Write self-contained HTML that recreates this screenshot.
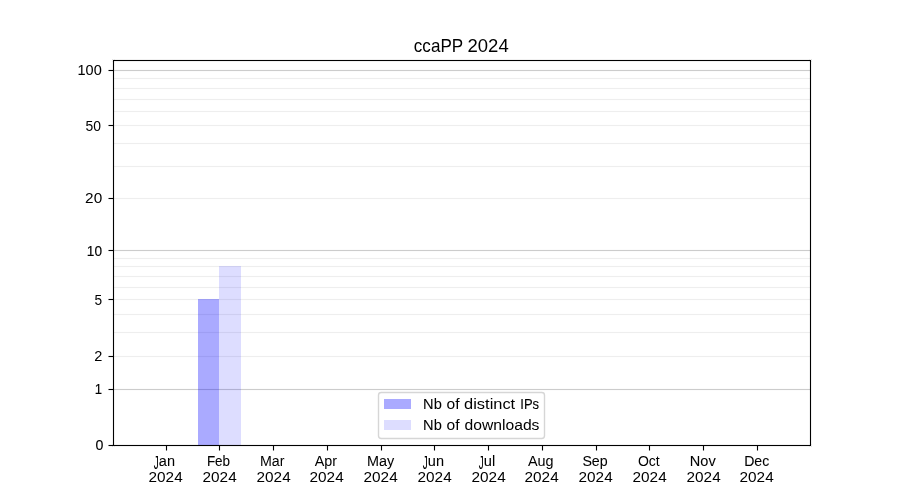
<!DOCTYPE html><html><head><meta charset="utf-8"><style>html,body{margin:0;padding:0;background:#fff;width:900px;height:500px;overflow:hidden}svg{display:block}text{font-family:"Liberation Sans",sans-serif;fill:#000}</style></head><body>
<svg width="900" height="500" viewBox="0 0 900 500">
<rect x="0" y="0" width="900" height="500" fill="#fff"/>
<g shape-rendering="crispEdges">
<rect x="113" y="78" width="697" height="1" fill="#eeeeee"/>
<rect x="113" y="77" width="697" height="1" fill="#eeeeee" fill-opacity="0.055"/>
<rect x="113" y="79" width="697" height="1" fill="#eeeeee" fill-opacity="0.055"/>
<rect x="113" y="88" width="697" height="1" fill="#eeeeee"/>
<rect x="113" y="87" width="697" height="1" fill="#eeeeee" fill-opacity="0.055"/>
<rect x="113" y="89" width="697" height="1" fill="#eeeeee" fill-opacity="0.055"/>
<rect x="113" y="99" width="697" height="1" fill="#eeeeee"/>
<rect x="113" y="98" width="697" height="1" fill="#eeeeee" fill-opacity="0.055"/>
<rect x="113" y="100" width="697" height="1" fill="#eeeeee" fill-opacity="0.055"/>
<rect x="113" y="111" width="697" height="1" fill="#eeeeee"/>
<rect x="113" y="110" width="697" height="1" fill="#eeeeee" fill-opacity="0.055"/>
<rect x="113" y="112" width="697" height="1" fill="#eeeeee" fill-opacity="0.055"/>
<rect x="113" y="125" width="697" height="1" fill="#eeeeee"/>
<rect x="113" y="124" width="697" height="1" fill="#eeeeee" fill-opacity="0.055"/>
<rect x="113" y="126" width="697" height="1" fill="#eeeeee" fill-opacity="0.055"/>
<rect x="113" y="143" width="697" height="1" fill="#eeeeee"/>
<rect x="113" y="142" width="697" height="1" fill="#eeeeee" fill-opacity="0.055"/>
<rect x="113" y="144" width="697" height="1" fill="#eeeeee" fill-opacity="0.055"/>
<rect x="113" y="166" width="697" height="1" fill="#eeeeee"/>
<rect x="113" y="165" width="697" height="1" fill="#eeeeee" fill-opacity="0.055"/>
<rect x="113" y="167" width="697" height="1" fill="#eeeeee" fill-opacity="0.055"/>
<rect x="113" y="198" width="697" height="1" fill="#eeeeee"/>
<rect x="113" y="197" width="697" height="1" fill="#eeeeee" fill-opacity="0.055"/>
<rect x="113" y="199" width="697" height="1" fill="#eeeeee" fill-opacity="0.055"/>
<rect x="113" y="258" width="697" height="1" fill="#eeeeee"/>
<rect x="113" y="257" width="697" height="1" fill="#eeeeee" fill-opacity="0.055"/>
<rect x="113" y="259" width="697" height="1" fill="#eeeeee" fill-opacity="0.055"/>
<rect x="113" y="266" width="697" height="1" fill="#eeeeee"/>
<rect x="113" y="265" width="697" height="1" fill="#eeeeee" fill-opacity="0.055"/>
<rect x="113" y="267" width="697" height="1" fill="#eeeeee" fill-opacity="0.055"/>
<rect x="113" y="276" width="697" height="1" fill="#eeeeee"/>
<rect x="113" y="275" width="697" height="1" fill="#eeeeee" fill-opacity="0.055"/>
<rect x="113" y="277" width="697" height="1" fill="#eeeeee" fill-opacity="0.055"/>
<rect x="113" y="287" width="697" height="1" fill="#eeeeee"/>
<rect x="113" y="286" width="697" height="1" fill="#eeeeee" fill-opacity="0.055"/>
<rect x="113" y="288" width="697" height="1" fill="#eeeeee" fill-opacity="0.055"/>
<rect x="113" y="299" width="697" height="1" fill="#eeeeee"/>
<rect x="113" y="298" width="697" height="1" fill="#eeeeee" fill-opacity="0.055"/>
<rect x="113" y="300" width="697" height="1" fill="#eeeeee" fill-opacity="0.055"/>
<rect x="113" y="314" width="697" height="1" fill="#eeeeee"/>
<rect x="113" y="313" width="697" height="1" fill="#eeeeee" fill-opacity="0.055"/>
<rect x="113" y="315" width="697" height="1" fill="#eeeeee" fill-opacity="0.055"/>
<rect x="113" y="332" width="697" height="1" fill="#eeeeee"/>
<rect x="113" y="331" width="697" height="1" fill="#eeeeee" fill-opacity="0.055"/>
<rect x="113" y="333" width="697" height="1" fill="#eeeeee" fill-opacity="0.055"/>
<rect x="113" y="356" width="697" height="1" fill="#eeeeee"/>
<rect x="113" y="355" width="697" height="1" fill="#eeeeee" fill-opacity="0.055"/>
<rect x="113" y="357" width="697" height="1" fill="#eeeeee" fill-opacity="0.055"/>
<rect x="113" y="70" width="697" height="1" fill="#cccccc"/>
<rect x="113" y="69" width="697" height="1" fill="#cccccc" fill-opacity="0.055"/>
<rect x="113" y="71" width="697" height="1" fill="#cccccc" fill-opacity="0.055"/>
<rect x="113" y="250" width="697" height="1" fill="#cccccc"/>
<rect x="113" y="249" width="697" height="1" fill="#cccccc" fill-opacity="0.055"/>
<rect x="113" y="251" width="697" height="1" fill="#cccccc" fill-opacity="0.055"/>
<rect x="113" y="389" width="697" height="1" fill="#cccccc"/>
<rect x="113" y="388" width="697" height="1" fill="#cccccc" fill-opacity="0.055"/>
<rect x="113" y="390" width="697" height="1" fill="#cccccc" fill-opacity="0.055"/>
<rect x="198" y="299" width="21" height="146" fill="#0000ff" fill-opacity="0.33333"/>
<rect x="219" y="266" width="22" height="179" fill="#0000ff" fill-opacity="0.13333"/>
</g>
<g shape-rendering="crispEdges">
<rect x="112" y="59" width="700" height="1" fill="#000" fill-opacity="0.0549"/>
<rect x="112" y="61" width="700" height="1" fill="#000" fill-opacity="0.0549"/>
<rect x="112" y="444" width="700" height="1" fill="#000" fill-opacity="0.0549"/>
<rect x="112" y="446" width="700" height="1" fill="#000" fill-opacity="0.0549"/>
<rect x="112" y="59" width="1" height="388" fill="#000" fill-opacity="0.0549"/>
<rect x="114" y="59" width="1" height="388" fill="#000" fill-opacity="0.0549"/>
<rect x="809" y="59" width="1" height="388" fill="#000" fill-opacity="0.0549"/>
<rect x="811" y="59" width="1" height="388" fill="#000" fill-opacity="0.0549"/>
<rect x="109" y="69" width="4" height="1" fill="#000" fill-opacity="0.0549"/>
<rect x="109" y="71" width="4" height="1" fill="#000" fill-opacity="0.0549"/>
<rect x="108" y="69" width="1" height="1" fill="#000" fill-opacity="0.0275"/>
<rect x="108" y="71" width="1" height="1" fill="#000" fill-opacity="0.0275"/>
<rect x="109" y="124" width="4" height="1" fill="#000" fill-opacity="0.0549"/>
<rect x="109" y="126" width="4" height="1" fill="#000" fill-opacity="0.0549"/>
<rect x="108" y="124" width="1" height="1" fill="#000" fill-opacity="0.0275"/>
<rect x="108" y="126" width="1" height="1" fill="#000" fill-opacity="0.0275"/>
<rect x="109" y="197" width="4" height="1" fill="#000" fill-opacity="0.0549"/>
<rect x="109" y="199" width="4" height="1" fill="#000" fill-opacity="0.0549"/>
<rect x="108" y="197" width="1" height="1" fill="#000" fill-opacity="0.0275"/>
<rect x="108" y="199" width="1" height="1" fill="#000" fill-opacity="0.0275"/>
<rect x="109" y="249" width="4" height="1" fill="#000" fill-opacity="0.0549"/>
<rect x="109" y="251" width="4" height="1" fill="#000" fill-opacity="0.0549"/>
<rect x="108" y="249" width="1" height="1" fill="#000" fill-opacity="0.0275"/>
<rect x="108" y="251" width="1" height="1" fill="#000" fill-opacity="0.0275"/>
<rect x="109" y="298" width="4" height="1" fill="#000" fill-opacity="0.0549"/>
<rect x="109" y="300" width="4" height="1" fill="#000" fill-opacity="0.0549"/>
<rect x="108" y="298" width="1" height="1" fill="#000" fill-opacity="0.0275"/>
<rect x="108" y="300" width="1" height="1" fill="#000" fill-opacity="0.0275"/>
<rect x="109" y="355" width="4" height="1" fill="#000" fill-opacity="0.0549"/>
<rect x="109" y="357" width="4" height="1" fill="#000" fill-opacity="0.0549"/>
<rect x="108" y="355" width="1" height="1" fill="#000" fill-opacity="0.0275"/>
<rect x="108" y="357" width="1" height="1" fill="#000" fill-opacity="0.0275"/>
<rect x="109" y="388" width="4" height="1" fill="#000" fill-opacity="0.0549"/>
<rect x="109" y="390" width="4" height="1" fill="#000" fill-opacity="0.0549"/>
<rect x="108" y="388" width="1" height="1" fill="#000" fill-opacity="0.0275"/>
<rect x="108" y="390" width="1" height="1" fill="#000" fill-opacity="0.0275"/>
<rect x="109" y="444" width="4" height="1" fill="#000" fill-opacity="0.0549"/>
<rect x="109" y="446" width="4" height="1" fill="#000" fill-opacity="0.0549"/>
<rect x="108" y="444" width="1" height="1" fill="#000" fill-opacity="0.0275"/>
<rect x="108" y="446" width="1" height="1" fill="#000" fill-opacity="0.0275"/>
<rect x="165" y="446" width="1" height="4" fill="#000" fill-opacity="0.0549"/>
<rect x="167" y="446" width="1" height="4" fill="#000" fill-opacity="0.0549"/>
<rect x="165" y="450" width="1" height="1" fill="#000" fill-opacity="0.0275"/>
<rect x="167" y="450" width="1" height="1" fill="#000" fill-opacity="0.0275"/>
<rect x="218" y="446" width="1" height="4" fill="#000" fill-opacity="0.0549"/>
<rect x="220" y="446" width="1" height="4" fill="#000" fill-opacity="0.0549"/>
<rect x="218" y="450" width="1" height="1" fill="#000" fill-opacity="0.0275"/>
<rect x="220" y="450" width="1" height="1" fill="#000" fill-opacity="0.0275"/>
<rect x="272" y="446" width="1" height="4" fill="#000" fill-opacity="0.0549"/>
<rect x="274" y="446" width="1" height="4" fill="#000" fill-opacity="0.0549"/>
<rect x="272" y="450" width="1" height="1" fill="#000" fill-opacity="0.0275"/>
<rect x="274" y="450" width="1" height="1" fill="#000" fill-opacity="0.0275"/>
<rect x="326" y="446" width="1" height="4" fill="#000" fill-opacity="0.0549"/>
<rect x="328" y="446" width="1" height="4" fill="#000" fill-opacity="0.0549"/>
<rect x="326" y="450" width="1" height="1" fill="#000" fill-opacity="0.0275"/>
<rect x="328" y="450" width="1" height="1" fill="#000" fill-opacity="0.0275"/>
<rect x="380" y="446" width="1" height="4" fill="#000" fill-opacity="0.0549"/>
<rect x="382" y="446" width="1" height="4" fill="#000" fill-opacity="0.0549"/>
<rect x="380" y="450" width="1" height="1" fill="#000" fill-opacity="0.0275"/>
<rect x="382" y="450" width="1" height="1" fill="#000" fill-opacity="0.0275"/>
<rect x="433" y="446" width="1" height="4" fill="#000" fill-opacity="0.0549"/>
<rect x="435" y="446" width="1" height="4" fill="#000" fill-opacity="0.0549"/>
<rect x="433" y="450" width="1" height="1" fill="#000" fill-opacity="0.0275"/>
<rect x="435" y="450" width="1" height="1" fill="#000" fill-opacity="0.0275"/>
<rect x="487" y="446" width="1" height="4" fill="#000" fill-opacity="0.0549"/>
<rect x="489" y="446" width="1" height="4" fill="#000" fill-opacity="0.0549"/>
<rect x="487" y="450" width="1" height="1" fill="#000" fill-opacity="0.0275"/>
<rect x="489" y="450" width="1" height="1" fill="#000" fill-opacity="0.0275"/>
<rect x="541" y="446" width="1" height="4" fill="#000" fill-opacity="0.0549"/>
<rect x="543" y="446" width="1" height="4" fill="#000" fill-opacity="0.0549"/>
<rect x="541" y="450" width="1" height="1" fill="#000" fill-opacity="0.0275"/>
<rect x="543" y="450" width="1" height="1" fill="#000" fill-opacity="0.0275"/>
<rect x="595" y="446" width="1" height="4" fill="#000" fill-opacity="0.0549"/>
<rect x="597" y="446" width="1" height="4" fill="#000" fill-opacity="0.0549"/>
<rect x="595" y="450" width="1" height="1" fill="#000" fill-opacity="0.0275"/>
<rect x="597" y="450" width="1" height="1" fill="#000" fill-opacity="0.0275"/>
<rect x="648" y="446" width="1" height="4" fill="#000" fill-opacity="0.0549"/>
<rect x="650" y="446" width="1" height="4" fill="#000" fill-opacity="0.0549"/>
<rect x="648" y="450" width="1" height="1" fill="#000" fill-opacity="0.0275"/>
<rect x="650" y="450" width="1" height="1" fill="#000" fill-opacity="0.0275"/>
<rect x="702" y="446" width="1" height="4" fill="#000" fill-opacity="0.0549"/>
<rect x="704" y="446" width="1" height="4" fill="#000" fill-opacity="0.0549"/>
<rect x="702" y="450" width="1" height="1" fill="#000" fill-opacity="0.0275"/>
<rect x="704" y="450" width="1" height="1" fill="#000" fill-opacity="0.0275"/>
<rect x="756" y="446" width="1" height="4" fill="#000" fill-opacity="0.0549"/>
<rect x="758" y="446" width="1" height="4" fill="#000" fill-opacity="0.0549"/>
<rect x="756" y="450" width="1" height="1" fill="#000" fill-opacity="0.0275"/>
<rect x="758" y="450" width="1" height="1" fill="#000" fill-opacity="0.0275"/>
<rect x="113" y="60" width="698" height="1" fill="#000"/>
<rect x="113" y="445" width="698" height="1" fill="#000"/>
<rect x="113" y="60" width="1" height="386" fill="#000"/>
<rect x="810" y="60" width="1" height="386" fill="#000"/>
<rect x="109" y="70" width="4" height="1" fill="#000"/>
<rect x="108" y="70" width="1" height="1" fill="#000" fill-opacity="0.502"/>
<rect x="109" y="125" width="4" height="1" fill="#000"/>
<rect x="108" y="125" width="1" height="1" fill="#000" fill-opacity="0.502"/>
<rect x="109" y="198" width="4" height="1" fill="#000"/>
<rect x="108" y="198" width="1" height="1" fill="#000" fill-opacity="0.502"/>
<rect x="109" y="250" width="4" height="1" fill="#000"/>
<rect x="108" y="250" width="1" height="1" fill="#000" fill-opacity="0.502"/>
<rect x="109" y="299" width="4" height="1" fill="#000"/>
<rect x="108" y="299" width="1" height="1" fill="#000" fill-opacity="0.502"/>
<rect x="109" y="356" width="4" height="1" fill="#000"/>
<rect x="108" y="356" width="1" height="1" fill="#000" fill-opacity="0.502"/>
<rect x="109" y="389" width="4" height="1" fill="#000"/>
<rect x="108" y="389" width="1" height="1" fill="#000" fill-opacity="0.502"/>
<rect x="109" y="445" width="4" height="1" fill="#000"/>
<rect x="108" y="445" width="1" height="1" fill="#000" fill-opacity="0.502"/>
<rect x="166" y="446" width="1" height="4" fill="#000"/>
<rect x="166" y="450" width="1" height="1" fill="#000" fill-opacity="0.502"/>
<rect x="219" y="446" width="1" height="4" fill="#000"/>
<rect x="219" y="450" width="1" height="1" fill="#000" fill-opacity="0.502"/>
<rect x="273" y="446" width="1" height="4" fill="#000"/>
<rect x="273" y="450" width="1" height="1" fill="#000" fill-opacity="0.502"/>
<rect x="327" y="446" width="1" height="4" fill="#000"/>
<rect x="327" y="450" width="1" height="1" fill="#000" fill-opacity="0.502"/>
<rect x="381" y="446" width="1" height="4" fill="#000"/>
<rect x="381" y="450" width="1" height="1" fill="#000" fill-opacity="0.502"/>
<rect x="434" y="446" width="1" height="4" fill="#000"/>
<rect x="434" y="450" width="1" height="1" fill="#000" fill-opacity="0.502"/>
<rect x="488" y="446" width="1" height="4" fill="#000"/>
<rect x="488" y="450" width="1" height="1" fill="#000" fill-opacity="0.502"/>
<rect x="542" y="446" width="1" height="4" fill="#000"/>
<rect x="542" y="450" width="1" height="1" fill="#000" fill-opacity="0.502"/>
<rect x="596" y="446" width="1" height="4" fill="#000"/>
<rect x="596" y="450" width="1" height="1" fill="#000" fill-opacity="0.502"/>
<rect x="649" y="446" width="1" height="4" fill="#000"/>
<rect x="649" y="450" width="1" height="1" fill="#000" fill-opacity="0.502"/>
<rect x="703" y="446" width="1" height="4" fill="#000"/>
<rect x="703" y="450" width="1" height="1" fill="#000" fill-opacity="0.502"/>
<rect x="757" y="446" width="1" height="4" fill="#000"/>
<rect x="757" y="450" width="1" height="1" fill="#000" fill-opacity="0.502"/>
</g>
<rect x="378.5" y="392.5" width="166" height="46" rx="2.78" ry="2.78" fill="#fff" fill-opacity="0.8" stroke="#cccccc" stroke-opacity="0.8" stroke-width="1.39"/>
<rect x="384" y="399" width="27" height="10" fill="#0000ff" fill-opacity="0.33333"/>
<rect x="384" y="420" width="27" height="10" fill="#0000ff" fill-opacity="0.13333"/>
<g style="filter:grayscale(1)">
<text x="413.85" y="52.00" font-size="18.60" textLength="49.30" lengthAdjust="spacingAndGlyphs">ccaPP</text>
<text x="467.55" y="51.60" font-size="17.75" textLength="41.17" lengthAdjust="spacingAndGlyphs">2024</text>
<text x="77.55" y="75.00" font-size="13.75" textLength="24.21" lengthAdjust="spacingAndGlyphs" stroke="#000" stroke-width="0.050">100</text>
<text x="85.60" y="131.00" font-size="13.90" textLength="15.49" lengthAdjust="spacingAndGlyphs">50</text>
<text x="85.10" y="203.00" font-size="14.50" textLength="17.08" lengthAdjust="spacingAndGlyphs">20</text>
<text x="86.85" y="256.00" font-size="15.30" textLength="15.18" lengthAdjust="spacingAndGlyphs" stroke="#000" stroke-width="0.170">10</text>
<text x="94.60" y="305.00" font-size="15.10" textLength="7.62" lengthAdjust="spacingAndGlyphs">5</text>
<text x="94.35" y="361.00" font-size="14.50" textLength="8.09" lengthAdjust="spacingAndGlyphs" stroke="#000" stroke-width="0.020">2</text>
<text x="94.85" y="394.00" font-size="15.40" textLength="7.30" lengthAdjust="spacingAndGlyphs" stroke="#000" stroke-width="0.170">1</text>
<text x="95.50" y="450.00" font-size="13.75" textLength="7.90" lengthAdjust="spacingAndGlyphs" stroke="#000" stroke-width="0.130">0</text>
<text transform="translate(153.85 468.80) scale(0.700 1.270)" font-size="14.25">J</text>
<text x="158.85" y="466.10" font-size="14.00" textLength="16.15" lengthAdjust="spacingAndGlyphs" stroke="#000" stroke-width="0.050">an</text>
<text x="148.55" y="482.00" font-size="14.50" textLength="34.16" lengthAdjust="spacingAndGlyphs">2024</text>
<text x="206.90" y="466.35" font-size="14.15" textLength="23.18" lengthAdjust="spacingAndGlyphs" stroke="#000" stroke-width="0.090">Feb</text>
<text x="202.55" y="481.50" font-size="14.50" textLength="34.16" lengthAdjust="spacingAndGlyphs">2024</text>
<text x="259.90" y="466.25" font-size="14.65" textLength="24.51" lengthAdjust="spacingAndGlyphs" stroke="#000" stroke-width="0.010">Mar</text>
<text x="256.55" y="481.80" font-size="14.50" textLength="34.16" lengthAdjust="spacingAndGlyphs">2024</text>
<text x="314.75" y="466.00" font-size="14.00" textLength="22.32" lengthAdjust="spacingAndGlyphs" stroke="#000" stroke-width="0.020">Apr</text>
<text x="309.55" y="481.85" font-size="14.50" textLength="34.16" lengthAdjust="spacingAndGlyphs">2024</text>
<text x="366.90" y="466.00" font-size="14.65" textLength="27.21" lengthAdjust="spacingAndGlyphs" stroke="#000" stroke-width="0.050">May</text>
<text x="363.55" y="481.60" font-size="14.50" textLength="34.16" lengthAdjust="spacingAndGlyphs">2024</text>
<text transform="translate(422.75 469.30) scale(0.700 1.290)" font-size="14.25">J</text>
<text x="427.85" y="466.10" font-size="14.00" textLength="16.15" lengthAdjust="spacingAndGlyphs" stroke="#000" stroke-width="0.070">un</text>
<text x="417.55" y="481.75" font-size="14.50" textLength="34.16" lengthAdjust="spacingAndGlyphs">2024</text>
<text transform="translate(478.85 468.55) scale(0.700 1.330)" font-size="14.10">J</text>
<text x="483.85" y="465.75" font-size="14.50" textLength="11.41" lengthAdjust="spacingAndGlyphs" stroke="#000" stroke-width="0.060">ul</text>
<text x="471.55" y="481.60" font-size="14.50" textLength="34.16" lengthAdjust="spacingAndGlyphs">2024</text>
<text x="528.00" y="466.00" font-size="14.50" textLength="25.61" lengthAdjust="spacingAndGlyphs">Aug</text>
<text x="524.55" y="482.00" font-size="14.50" textLength="34.16" lengthAdjust="spacingAndGlyphs">2024</text>
<text x="582.40" y="466.00" font-size="14.10" textLength="25.28" lengthAdjust="spacingAndGlyphs" stroke="#000" stroke-width="0.080">Sep</text>
<text x="578.55" y="481.75" font-size="14.50" textLength="34.16" lengthAdjust="spacingAndGlyphs">2024</text>
<text x="637.95" y="466.20" font-size="14.15" textLength="21.81" lengthAdjust="spacingAndGlyphs">Oct</text>
<text x="632.55" y="482.10" font-size="14.50" textLength="34.16" lengthAdjust="spacingAndGlyphs">2024</text>
<text x="689.85" y="466.00" font-size="15.25" textLength="25.89" lengthAdjust="spacingAndGlyphs" stroke="#000" stroke-width="0.070">Nov</text>
<text x="686.55" y="482.00" font-size="14.50" textLength="34.16" lengthAdjust="spacingAndGlyphs">2024</text>
<text x="744.15" y="466.00" font-size="14.90" textLength="25.08" lengthAdjust="spacingAndGlyphs" stroke="#000" stroke-width="0.080">Dec</text>
<text x="739.55" y="481.85" font-size="14.50" textLength="34.16" lengthAdjust="spacingAndGlyphs">2024</text>
<text x="423.10" y="408.75" font-size="14.95" textLength="18.71" lengthAdjust="spacingAndGlyphs" stroke="#000" stroke-width="0.070">Nb</text>
<text x="446.55" y="409.25" font-size="13.90" textLength="13.00" lengthAdjust="spacingAndGlyphs">of</text>
<text x="464.10" y="408.75" font-size="14.00" textLength="51.08" lengthAdjust="spacingAndGlyphs">distinct</text>
<text x="520.30" y="409.00" font-size="14.60" textLength="18.78" lengthAdjust="spacingAndGlyphs" stroke="#000" stroke-width="0.120">IPs</text>
<text x="423.10" y="430.25" font-size="14.95" textLength="18.71" lengthAdjust="spacingAndGlyphs" stroke="#000" stroke-width="0.070">Nb</text>
<text x="446.55" y="429.75" font-size="13.90" textLength="13.00" lengthAdjust="spacingAndGlyphs">of</text>
<text x="464.50" y="430.00" font-size="14.75" textLength="74.94" lengthAdjust="spacingAndGlyphs">downloads</text>
</g>
</svg></body></html>
